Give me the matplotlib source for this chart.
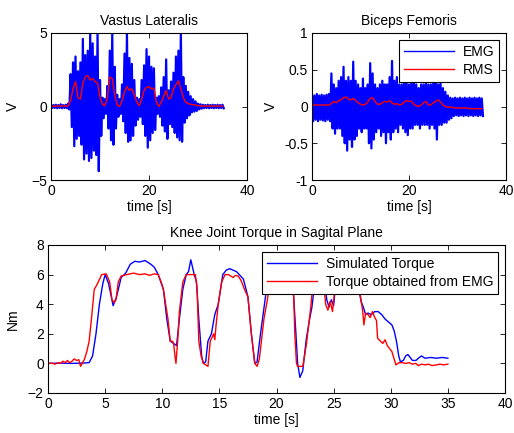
import numpy as np
import matplotlib
matplotlib.use('Agg')
import matplotlib.pyplot as plt

plt.rcParams['font.family'] = ['Liberation Sans', 'DejaVu Sans']
plt.rcParams['font.size'] = 10

# EMG envelopes, sampled every 0.5 s from 0 to 35 s
t_emg = np.arange(0, 35.5, 0.5)

vl_upper = [0.12, 0.1, 0.12, 0.1, 0.15, 0.1, 0.12, 0.2, 2.2, 3.0,
            3.4, 2.4, 3.0, 4.6, 3.5, 3.8, 5.0, 4.3, 3.4, 5.0,
            1.8, 0.6, 0.5, 1.4, 3.8, 5.0, 2.7, 0.8, 0.5, 1.5,
            3.6, 5.0, 3.3, 2.9, 1.8, 0.6, 0.5, 1.8, 2.8, 3.9,
            3.4, 2.7, 2.6, 0.6, 0.7, 1.3, 2.0, 3.2, 1.1, 1.7,
            2.3, 3.4, 3.8, 5.0, 2.0, 1.4, 1.0, 0.7, 0.5, 0.35,
            0.2, 0.15, 0.12, 0.1, 0.12, 0.1, 0.12, 0.1, 0.12, 0.1, 0.12]
vl_lower = [-0.1, -0.1, -0.12, -0.1, -0.12, -0.1, -0.12, -0.2, -1.4, -2.7,
            -2.2, -2.0, -2.6, -3.6, -3.2, -3.7, -3.5, -3.0, -3.3, -4.4,
            -2.0, -0.8, -0.5, -1.5, -2.3, -2.6, -1.5, -0.7, -0.5, -1.0,
            -1.8, -2.4, -2.3, -2.0, -1.3, -0.9, -0.7, -1.2, -2.0, -2.8,
            -2.3, -1.8, -1.6, -0.5, -0.7, -1.3, -1.7, -2.2, -1.2, -1.4,
            -1.8, -2.1, -2.3, -2.4, -1.1, -0.8, -0.6, -0.4, -0.35, -0.3,
            -0.2, -0.15, -0.12, -0.1, -0.12, -0.1, -0.12, -0.1, -0.12, -0.1, -0.12]
vl_rms = [0.02, 0.03, 0.02, 0.04, 0.02, 0.05, 0.03, 0.05, 0.4, 1.2,
          1.7, 0.6, 0.5, 1.6, 2.0, 2.1, 1.8, 1.9, 1.7, 1.6,
          0.6, 0.15, 0.05, 0.6, 2.0, 1.9, 0.8, 0.1, 0.0, 0.4,
          1.0, 1.35, 1.1, 1.2, 0.8, 0.3, 0.05, 0.5, 1.1, 1.3,
          1.35, 1.2, 1.25, 0.3, 0.0, 0.3, 0.7, 1.1, 0.5, 0.6,
          1.2, 1.5, 1.75, 1.2, 0.6, 0.3, 0.2, 0.15, 0.12, 0.1,
          0.06, 0.03, 0.03, 0.03, 0.03, 0.03, 0.03, 0.03, 0.03, 0.03, 0.03]

bf_upper = [0.16, 0.15, 0.17, 0.15, 0.16, 0.15, 0.16, 0.17, 0.45, 0.3,
            0.25, 0.35, 0.4, 0.54, 0.35, 0.4, 0.35, 0.61, 0.35, 0.3,
            0.25, 0.38, 0.25, 0.3, 0.59, 0.45, 0.3, 0.25, 0.3, 0.35,
            0.3, 0.3, 0.4, 0.62, 0.35, 0.4, 0.3, 0.3, 0.35, 0.35,
            0.3, 0.35, 0.36, 0.3, 0.25, 0.3, 0.3, 0.34, 0.3, 0.3,
            0.32, 0.33, 0.3, 0.32, 0.25, 0.2, 0.15, 0.12, 0.11, 0.12,
            0.11, 0.12, 0.11, 0.12, 0.11, 0.12, 0.11, 0.12, 0.11, 0.12, 0.11]
bf_lower = [-0.2, -0.18, -0.2, -0.18, -0.19, -0.2, -0.18, -0.2, -0.3, -0.37,
            -0.3, -0.3, -0.4, -0.5, -0.6, -0.45, -0.55, -0.45, -0.4, -0.3,
            -0.35, -0.3, -0.3, -0.5, -0.57, -0.45, -0.35, -0.3, -0.4, -0.35,
            -0.5, -0.35, -0.45, -0.35, -0.3, -0.35, -0.25, -0.3, -0.35, -0.39,
            -0.3, -0.3, -0.25, -0.25, -0.3, -0.25, -0.25, -0.25, -0.3, -0.25,
            -0.3, -0.45, -0.25, -0.25, -0.22, -0.22, -0.18, -0.16, -0.13, -0.12,
            -0.13, -0.12, -0.13, -0.12, -0.13, -0.12, -0.13, -0.12, -0.13, -0.12, -0.13]
bf_rms = [0.02, 0.02, 0.02, 0.02, 0.02, 0.02, 0.02, 0.02, 0.04, 0.07,
          0.05, 0.08, 0.09, 0.12, 0.13, 0.1, 0.09, 0.11, 0.08, 0.05,
          0.03, 0.02, 0.03, 0.06, 0.11, 0.12, 0.07, 0.03, 0.03, 0.05,
          0.07, 0.06, 0.08, 0.05, 0.03, 0.04, 0.02, 0.03, 0.06, 0.08,
          0.07, 0.07, 0.03, 0.01, 0.0, 0.02, 0.05, 0.07, 0.02, 0.02,
          0.05, 0.07, 0.09, 0.06, 0.02, 0.0, -0.01, -0.01, -0.01, -0.02,
          -0.02, -0.02, -0.02, -0.02, -0.02, -0.03, -0.03, -0.03, -0.03, -0.03, -0.03]

# knee torque, read at break points
t_sim = [0, 1, 2, 3, 3.6, 3.9, 4.2, 4.5, 4.8, 5.0, 5.3, 5.7, 6.0, 6.4, 6.8, 7.2, 7.6, 8.0,
         8.5, 9.0, 9.3, 9.65, 10.1, 10.4, 10.7, 11.0, 11.25, 11.5, 11.8, 12.1, 12.3, 12.5,
         12.8, 13.0, 13.2, 13.45, 13.6, 13.8, 14.0, 14.3, 14.6, 14.9, 15.1, 15.3, 15.6, 15.9,
         16.5, 17.1, 17.5, 17.8, 18.1, 18.3, 18.6, 19.0, 19.3, 19.8, 20.5, 21.0, 21.3, 21.5,
         21.7, 21.85, 22.05, 22.3, 22.6, 22.9, 23.1, 23.4, 23.8, 24.2, 24.4, 24.6, 24.8, 25.0,
         25.2, 25.6, 26.2, 26.8, 27.2, 27.4, 27.6, 27.8, 28.0, 28.3, 28.6, 28.9, 29.2, 29.5,
         29.8, 30.1, 30.3, 30.5, 30.7, 30.85, 31.1, 31.3, 31.5, 31.7, 31.9, 32.2, 32.5, 32.7,
         33.0, 33.5, 34.0, 34.5, 35.0]
torque_sim = [0, 0.02, 0, 0.02, 0.05, 0.5, 2.0, 4.0, 5.4, 6.0, 5.4, 3.9, 4.5, 5.8, 6.1, 6.7, 6.9, 6.85,
              6.95, 6.7, 6.5, 6.0, 5.0, 3.0, 1.5, 1.35, 1.2, 3.0, 5.0, 6.0, 6.2, 7.0,
              6.0, 5.5, 3.0, 0.5, 0.0, 0.1, 1.5, 2.0, 3.3, 4.0, 5.0, 6.0, 6.3, 6.4,
              6.2, 5.7, 4.5, 2.0, 0.0, 0.1, 2.0, 4.3, 6.0, 6.4, 6.3, 6.1, 5.5, 4.5,
              2.0, 0.0, -0.95, -0.5, 1.6, 3.0, 3.8, 5.8, 6.0, 5.5, 4.3, 3.8, 4.3, 3.9,
              5.5, 6.3, 6.2, 5.8, 5.0, 4.2, 3.8, 3.3, 3.4, 3.3, 3.5, 3.5, 3.3, 3.0,
              2.8, 2.6, 2.2, 1.5, 0.5, 0.1, 0.2, 0.5, 0.6, 0.4, 0.2, 0.2, 0.4, 0.5,
              0.35, 0.4, 0.35, 0.4, 0.35]

t_emgt = [0, 0.3, 0.6, 0.9, 1.1, 1.3, 1.5, 1.7, 1.9, 2.1, 2.3, 2.5, 2.7, 2.85, 3.0, 3.2, 3.4,
          3.6, 3.8, 4.05, 4.2, 4.4, 4.7, 5.1, 5.4, 5.6, 5.8, 5.95, 6.15, 6.4, 6.9, 7.5, 8.0,
          8.5, 8.9, 9.3, 9.65, 9.9, 10.1, 10.3, 10.5, 10.7, 10.9, 11.0, 11.1, 11.2, 11.35, 11.5,
          11.8, 12.1, 12.4, 12.9, 13.05, 13.2, 13.4, 13.6, 14.0, 14.2, 14.5, 14.6, 14.7, 14.9,
          15.2, 15.5, 15.8, 16.2, 16.4, 16.65, 16.9, 17.2, 17.5, 17.8, 18.1, 18.3, 18.5, 18.9,
          19.2, 19.5, 20.0, 20.5, 21.0, 21.3, 21.5, 21.6, 21.75, 21.85, 22.3, 22.45, 22.6, 22.8,
          23.0, 23.2, 23.6, 24.1, 24.3, 24.5, 24.7, 24.9, 25.1, 25.4, 26.0, 26.5, 27.0, 27.3,
          27.55, 27.65, 27.8, 28.0, 28.2, 28.4, 28.6, 28.75, 28.85, 29.1, 29.3, 29.5, 29.7, 29.9,
          30.1, 30.3, 30.45, 30.7, 31.0, 31.3, 31.6, 31.9, 32.2, 32.4, 32.7, 33.0, 33.3, 33.6,
          34.0, 34.3, 34.6, 35.0]
torque_emg = [0, 0.02, -0.05, 0.05, 0.0, 0.15, 0.05, 0.2, 0.05, 0.15, 0.3, 0.2, 0.25, -0.2, 0.0, 0.3, 0.8,
              1.5, 3.0, 5.0, 5.2, 5.5, 6.0, 6.05, 5.5, 4.3, 4.1, 4.3, 5.5, 5.9, 6.0, 6.1, 6.0,
              6.05, 5.95, 6.05, 6.0, 5.5, 5.0, 4.0, 3.0, 1.5, 1.5, 1.3, 0.6, 0.0, 1.5, 3.5,
              5.5, 6.0, 6.0, 6.0, 5.0, 1.5, 0.5, 0.0, -0.2, 1.5, 2.0, 1.6, 2.5, 4.0,
              5.5, 6.0, 6.0, 5.8, 5.95, 5.9, 5.6, 5.0, 4.5, 2.0, 0.0, -0.2, 0.3, 3.0,
              4.3, 5.8, 6.0, 6.0, 5.9, 5.2, 4.8, 2.0, 0.0, -0.2, -0.2, 0.5, 1.2, 2.5,
              3.8, 5.5, 6.0, 5.8, 4.0, 3.6, 4.2, 3.5, 5.0, 6.0, 6.0, 5.8, 5.5, 4.8,
              3.5, 2.6, 3.4, 3.3, 3.1, 3.5, 3.1, 2.9, 1.7, 1.5, 1.35, 1.6, 1.2, 1.0,
              0.8, 0.3, -0.1, 0.05, 0.05, 0.0, 0.05, -0.05, 0.0, -0.15, -0.05, -0.1, -0.05, -0.15,
              -0.1, -0.05, -0.1, -0.05]

W, H = 514, 433
fig = plt.figure(figsize=(W / 100, H / 100), dpi=100)


def rect(x0, y0, x1, y1):
    # pixel box -> figure fraction
    return [x0 / W, 1 - y1 / H, (x1 - x0) / W, (y1 - y0) / H]


def style(ax):
    for s in ax.spines.values():
        s.set_linewidth(0.8)
    ax.tick_params(direction='in', top=True, right=True, length=3.5, width=0.6, pad=3)


def emg_line(ax, upper, lower):
    # swing between the two envelopes, peak at each sample, trough half a step later
    x = np.column_stack([t_emg, t_emg + 0.25]).ravel()
    y = np.column_stack([upper, lower]).ravel()
    ax.plot(x, y, color='blue', lw=1.6)


ax1 = fig.add_axes(rect(51, 33, 247, 180))
emg_line(ax1, vl_upper, vl_lower)
ax1.plot(t_emg, vl_rms, color='red', lw=1.0)
ax1.set_xlim(0, 40)
ax1.set_ylim(-5, 5)
ax1.set_xticks([0, 20, 40])
ax1.set_yticks([-5, 0, 5])
ax1.set_title('Vastus Lateralis', fontsize=10, pad=6)
ax1.set_xlabel('time [s]', labelpad=1)
ax1.set_ylabel('V', labelpad=8)
style(ax1)

ax2 = fig.add_axes(rect(312, 33, 506, 180))
emg_line(ax2, bf_upper, bf_lower)
ax2.plot(t_emg, bf_rms, color='red', lw=1.0)
ax2.plot([], [], color='blue', lw=1.0, label='EMG')
ax2.plot([], [], color='red', lw=1.0, label='RMS')
h, l = ax2.get_legend_handles_labels()
ax2.legend(h[-2:], l[-2:], loc='upper right', fancybox=False, edgecolor='black',
           framealpha=1, handlelength=3.6, borderaxespad=0.5, labelspacing=0.3,
           handletextpad=0.6, borderpad=0.35).get_frame().set_linewidth(0.8)
ax2.set_xlim(0, 40)
ax2.set_ylim(-1, 1)
ax2.set_xticks([0, 20, 40])
ax2.set_yticks([-1, -0.5, 0, 0.5, 1])
ax2.set_yticklabels(['-1', '-0.5', '0', '0.5', '1'])
ax2.set_title('Biceps Femoris', fontsize=10, pad=6)
ax2.set_xlabel('time [s]', labelpad=1)
ax2.set_ylabel('V', labelpad=4)
style(ax2)

ax3 = fig.add_axes(rect(48, 245, 505, 393))
ax3.plot(t_sim, torque_sim, color='blue', lw=1.0, label='Simulated Torque')
ax3.plot(t_emgt, torque_emg, color='red', lw=1.0, label='Torque obtained from EMG')
ax3.legend(loc='upper right', fancybox=False, edgecolor='black', framealpha=1,
           handlelength=3.6, borderaxespad=0.5, labelspacing=0.3,
           handletextpad=0.6, borderpad=0.35).get_frame().set_linewidth(0.8)
ax3.set_xlim(0, 40)
ax3.set_ylim(-2, 8)
ax3.set_xticks(range(0, 45, 5))
ax3.set_yticks(range(-2, 10, 2))
ax3.set_title('Knee Joint Torque in Sagital Plane', fontsize=10, pad=6)
ax3.set_xlabel('time [s]', labelpad=1)
ax3.set_ylabel('Nm', labelpad=6)
style(ax3)

fig.savefig('out.png', dpi=100)
